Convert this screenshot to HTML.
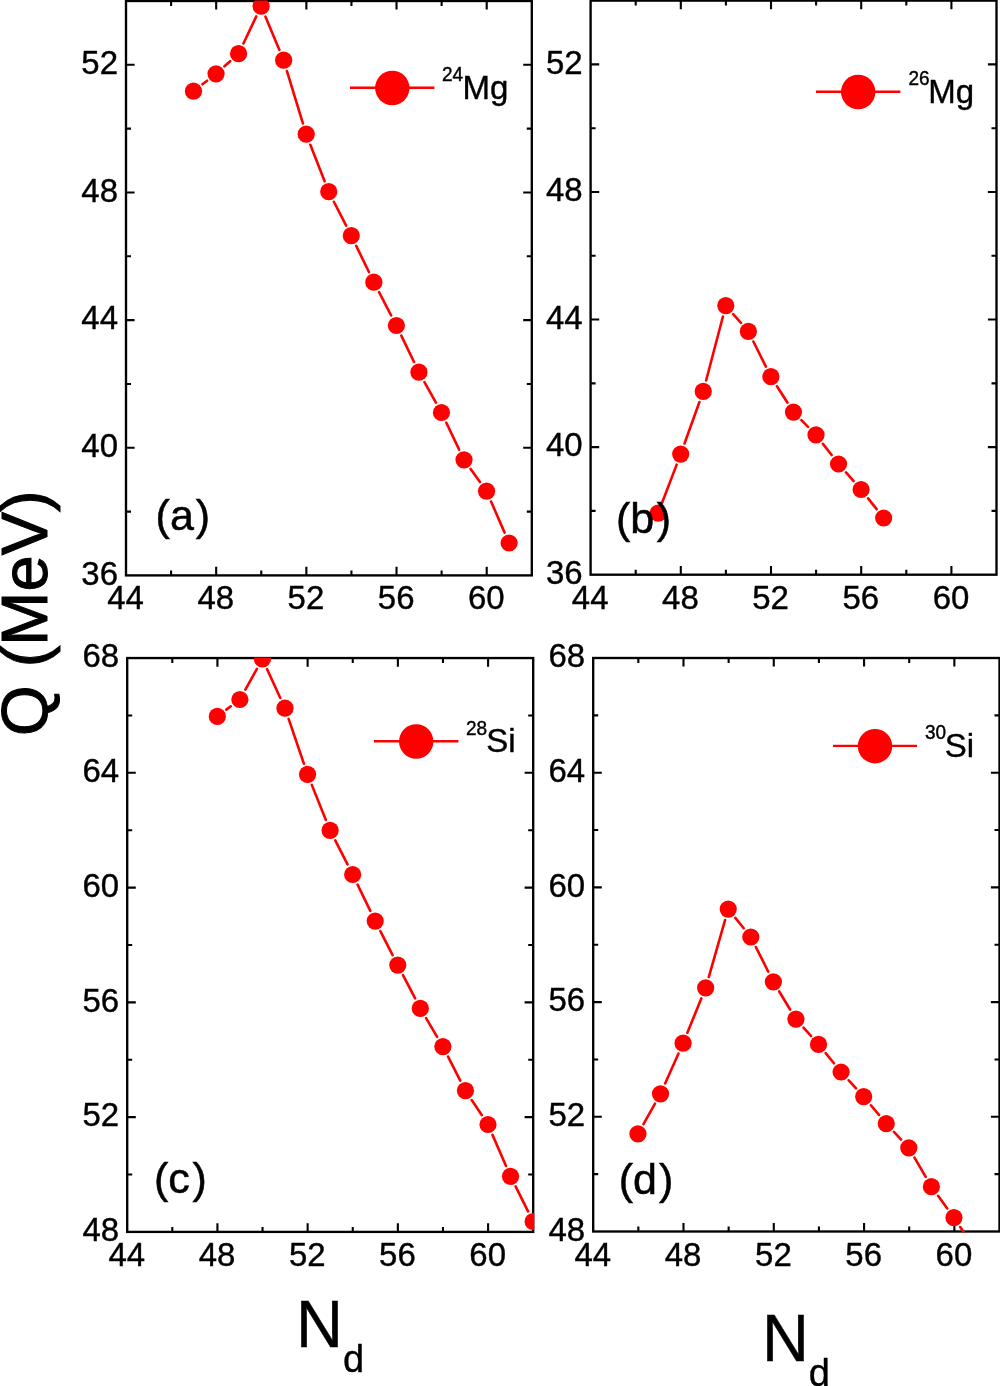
<!DOCTYPE html>
<html lang="en"><head><meta charset="utf-8"><title>Q (MeV) vs N_d</title>
<style>html,body{margin:0;padding:0;background:#fff}svg{display:block}text{stroke:#000}</style>
</head><body>
<svg width="1000" height="1386" viewBox="0 0 1000 1386" font-family='"Liberation Sans", sans-serif'>
<rect width="1000" height="1386" fill="#fff"/>
<defs>
<clipPath id="cpa"><rect x="125.00" y="0.45" width="407.85" height="576.00"/></clipPath>
<clipPath id="cpb"><rect x="589.60" y="0.05" width="407.95" height="575.70"/></clipPath>
<clipPath id="cpc"><rect x="126.20" y="657.50" width="408.05" height="575.45"/></clipPath>
<clipPath id="cpd"><rect x="592.20" y="657.45" width="408.35" height="575.10"/></clipPath>
</defs>
<line x1="350.0" y1="87.8" x2="434.4" y2="87.8" stroke="#ff0000" stroke-width="2.4"/>
<circle cx="392.3" cy="88.0" r="17.2" fill="#ff0000"/>
<text transform="translate(442.00 81.40) scale(1 1.05)" font-size="19" stroke-width="0.4">24</text>
<text transform="translate(462.50 99.00)" font-size="33" stroke-width="0.4">Mg</text>
<path d="M171.09 575.4v-5.0M171.09 1.0v5.0M216.18 575.4v-8.6M216.18 1.0v8.6M261.27 575.4v-5.0M261.27 1.0v5.0M306.36 575.4v-8.6M306.36 1.0v8.6M351.44 575.4v-5.0M351.44 1.0v5.0M396.53 575.4v-8.6M396.53 1.0v8.6M441.62 575.4v-5.0M441.62 1.0v5.0M486.71 575.4v-8.6M486.71 1.0v8.6M126.0 511.58h5.0M531.8 511.58h-5.0M126.0 447.76h8.6M531.8 447.76h-8.6M126.0 383.93h5.0M531.8 383.93h-5.0M126.0 320.11h8.6M531.8 320.11h-8.6M126.0 256.29h5.0M531.8 256.29h-5.0M126.0 192.47h8.6M531.8 192.47h-8.6M126.0 128.64h5.0M531.8 128.64h-5.0M126.0 64.82h8.6M531.8 64.82h-8.6" stroke="#000" stroke-width="2.1" fill="none"/>
<rect x="126.0" y="1.0" width="405.80" height="574.40" fill="none" stroke="#000" stroke-width="2.35"/>
<g clip-path="url(#cpa)">
<path d="M202.43 84.30L207.08 80.70M224.46 66.28L230.14 61.22M243.42 43.49L256.27 16.41M265.47 16.63L279.31 49.77M286.95 71.01L302.91 123.39M310.33 144.72L324.63 181.18M333.90 201.76L346.14 225.64M356.22 245.87L368.91 272.03M379.06 292.22L391.16 315.48M401.30 335.68L414.02 362.02M424.44 382.06L435.96 402.64M446.33 422.70L459.15 449.60M470.61 468.98L479.97 482.02M491.07 501.56L504.60 532.64" stroke="#ff0000" stroke-width="2.6" stroke-linecap="round" fill="none"/>
<circle cx="193.48" cy="91.20" r="8.6" fill="#ff0000"/>
<circle cx="216.03" cy="73.80" r="8.6" fill="#ff0000"/>
<circle cx="238.57" cy="53.70" r="8.6" fill="#ff0000"/>
<circle cx="261.12" cy="6.20" r="8.6" fill="#ff0000"/>
<circle cx="283.66" cy="60.20" r="8.6" fill="#ff0000"/>
<circle cx="306.21" cy="134.20" r="8.6" fill="#ff0000"/>
<circle cx="328.75" cy="191.70" r="8.6" fill="#ff0000"/>
<circle cx="351.29" cy="235.70" r="8.6" fill="#ff0000"/>
<circle cx="373.84" cy="282.20" r="8.6" fill="#ff0000"/>
<circle cx="396.38" cy="325.50" r="8.6" fill="#ff0000"/>
<circle cx="418.93" cy="372.20" r="8.6" fill="#ff0000"/>
<circle cx="441.47" cy="412.50" r="8.6" fill="#ff0000"/>
<circle cx="464.02" cy="459.80" r="8.6" fill="#ff0000"/>
<circle cx="486.56" cy="491.20" r="8.6" fill="#ff0000"/>
<circle cx="509.11" cy="543.00" r="8.6" fill="#ff0000"/>
</g>
<text transform="translate(155.60 530.00)" font-size="43" stroke-width="0.5">(a<tspan dx="2.0">)</tspan></text>
<text transform="translate(125.60 609.40) scale(1 1.015)" font-size="33" text-anchor="middle" stroke-width="0.4">44</text>
<text transform="translate(215.78 609.40) scale(1 1.015)" font-size="33" text-anchor="middle" stroke-width="0.4">48</text>
<text transform="translate(305.96 609.40) scale(1 1.015)" font-size="33" text-anchor="middle" stroke-width="0.4">52</text>
<text transform="translate(396.13 609.40) scale(1 1.015)" font-size="33" text-anchor="middle" stroke-width="0.4">56</text>
<text transform="translate(486.31 609.40) scale(1 1.015)" font-size="33" text-anchor="middle" stroke-width="0.4">60</text>
<text transform="translate(118.00 584.60) scale(1 1.015)" font-size="33" text-anchor="end" stroke-width="0.4">36</text>
<text transform="translate(118.00 456.96) scale(1 1.015)" font-size="33" text-anchor="end" stroke-width="0.4">40</text>
<text transform="translate(118.00 329.31) scale(1 1.015)" font-size="33" text-anchor="end" stroke-width="0.4">44</text>
<text transform="translate(118.00 201.67) scale(1 1.015)" font-size="33" text-anchor="end" stroke-width="0.4">48</text>
<text transform="translate(118.00 74.02) scale(1 1.015)" font-size="33" text-anchor="end" stroke-width="0.4">52</text>
<line x1="816.0" y1="91.8" x2="900.4" y2="91.8" stroke="#ff0000" stroke-width="2.4"/>
<circle cx="858.2" cy="92.0" r="17.2" fill="#ff0000"/>
<text transform="translate(908.40 85.40) scale(1 1.05)" font-size="19" stroke-width="0.4">26</text>
<text transform="translate(928.30 102.80)" font-size="33" stroke-width="0.4">Mg</text>
<path d="M635.70 574.7v-5.0M635.70 0.6v5.0M680.80 574.7v-8.6M680.80 0.6v8.6M725.90 574.7v-5.0M725.90 0.6v5.0M771.00 574.7v-8.6M771.00 0.6v8.6M816.10 574.7v-5.0M816.10 0.6v5.0M861.20 574.7v-8.6M861.20 0.6v8.6M906.30 574.7v-5.0M906.30 0.6v5.0M951.40 574.7v-8.6M951.40 0.6v8.6M590.6 510.91h5.0M996.5 510.91h-5.0M590.6 447.12h8.6M996.5 447.12h-8.6M590.6 383.33h5.0M996.5 383.33h-5.0M590.6 319.54h8.6M996.5 319.54h-8.6M590.6 255.76h5.0M996.5 255.76h-5.0M590.6 191.97h8.6M996.5 191.97h-8.6M590.6 128.18h5.0M996.5 128.18h-5.0M590.6 64.39h8.6M996.5 64.39h-8.6" stroke="#000" stroke-width="2.1" fill="none"/>
<rect x="590.6" y="0.6" width="405.90" height="574.10" fill="none" stroke="#000" stroke-width="2.35"/>
<g clip-path="url(#cpb)">
<path d="M662.18 502.54L676.67 464.66M684.52 443.47L699.43 402.03M706.12 380.47L722.93 316.53M733.24 314.11L740.91 322.89M753.39 341.52L765.86 366.58M776.97 386.23L787.38 402.57M801.40 420.13L808.05 426.87M822.92 443.83L831.63 455.07M846.04 472.46L853.61 481.04M868.11 498.36L876.64 509.14" stroke="#ff0000" stroke-width="2.6" stroke-linecap="round" fill="none"/>
<circle cx="658.15" cy="513.10" r="8.6" fill="#ff0000"/>
<circle cx="680.70" cy="454.10" r="8.6" fill="#ff0000"/>
<circle cx="703.25" cy="391.40" r="8.6" fill="#ff0000"/>
<circle cx="725.80" cy="305.60" r="8.6" fill="#ff0000"/>
<circle cx="748.35" cy="331.40" r="8.6" fill="#ff0000"/>
<circle cx="770.90" cy="376.70" r="8.6" fill="#ff0000"/>
<circle cx="793.45" cy="412.10" r="8.6" fill="#ff0000"/>
<circle cx="816.00" cy="434.90" r="8.6" fill="#ff0000"/>
<circle cx="838.55" cy="464.00" r="8.6" fill="#ff0000"/>
<circle cx="861.10" cy="489.50" r="8.6" fill="#ff0000"/>
<circle cx="883.65" cy="518.00" r="8.6" fill="#ff0000"/>
</g>
<text transform="translate(616.00 532.80)" font-size="43" stroke-width="0.5">(b<tspan dx="2.6">)</tspan></text>
<text transform="translate(590.20 609.30) scale(1 1.015)" font-size="33" text-anchor="middle" stroke-width="0.4">44</text>
<text transform="translate(680.40 609.30) scale(1 1.015)" font-size="33" text-anchor="middle" stroke-width="0.4">48</text>
<text transform="translate(770.60 609.30) scale(1 1.015)" font-size="33" text-anchor="middle" stroke-width="0.4">52</text>
<text transform="translate(860.80 609.30) scale(1 1.015)" font-size="33" text-anchor="middle" stroke-width="0.4">56</text>
<text transform="translate(951.00 609.30) scale(1 1.015)" font-size="33" text-anchor="middle" stroke-width="0.4">60</text>
<text transform="translate(582.60 583.90) scale(1 1.015)" font-size="33" text-anchor="end" stroke-width="0.4">36</text>
<text transform="translate(582.60 456.32) scale(1 1.015)" font-size="33" text-anchor="end" stroke-width="0.4">40</text>
<text transform="translate(582.60 328.74) scale(1 1.015)" font-size="33" text-anchor="end" stroke-width="0.4">44</text>
<text transform="translate(582.60 201.17) scale(1 1.015)" font-size="33" text-anchor="end" stroke-width="0.4">48</text>
<text transform="translate(582.60 73.59) scale(1 1.015)" font-size="33" text-anchor="end" stroke-width="0.4">52</text>
<line x1="374.0" y1="741.3" x2="458.4" y2="741.3" stroke="#ff0000" stroke-width="2.4"/>
<circle cx="416.2" cy="741.5" r="17.2" fill="#ff0000"/>
<text transform="translate(466.00 734.80) scale(1 1.05)" font-size="19" stroke-width="0.4">28</text>
<text transform="translate(486.30 752.40)" font-size="33" stroke-width="0.4">Si</text>
<path d="M172.31 1231.9v-5.0M172.31 658.05v5.0M217.42 1231.9v-8.6M217.42 658.05v8.6M262.53 1231.9v-5.0M262.53 658.05v5.0M307.64 1231.9v-8.6M307.64 658.05v8.6M352.76 1231.9v-5.0M352.76 658.05v5.0M397.87 1231.9v-8.6M397.87 658.05v8.6M442.98 1231.9v-5.0M442.98 658.05v5.0M488.09 1231.9v-8.6M488.09 658.05v8.6M127.2 1174.52h5.0M533.2 1174.52h-5.0M127.2 1117.13h8.6M533.2 1117.13h-8.6M127.2 1059.75h5.0M533.2 1059.75h-5.0M127.2 1002.36h8.6M533.2 1002.36h-8.6M127.2 944.98h5.0M533.2 944.98h-5.0M127.2 887.59h8.6M533.2 887.59h-8.6M127.2 830.20h5.0M533.2 830.20h-5.0M127.2 772.82h8.6M533.2 772.82h-8.6M127.2 715.43h5.0M533.2 715.43h-5.0" stroke="#000" stroke-width="2.1" fill="none"/>
<rect x="127.2" y="658.05" width="406.00" height="573.85" fill="none" stroke="#000" stroke-width="2.35"/>
<g clip-path="url(#cpc)">
<path d="M226.37 709.62L230.83 706.28M245.37 689.62L256.95 668.78M267.13 669.18L280.29 697.92M288.63 718.90L303.90 763.70M311.77 784.88L325.88 819.92M335.25 840.46L347.51 864.44M357.58 884.67L370.29 910.93M380.37 931.16L392.61 955.04M402.99 975.12L415.10 998.38M426.07 1018.13L437.13 1036.87M448.03 1056.66L460.28 1080.54M471.69 1100.01L481.73 1115.09M492.50 1134.86L506.03 1165.94M515.59 1186.41L528.05 1211.39" stroke="#ff0000" stroke-width="2.6" stroke-linecap="round" fill="none"/>
<circle cx="217.32" cy="716.40" r="8.6" fill="#ff0000"/>
<circle cx="239.88" cy="699.50" r="8.6" fill="#ff0000"/>
<circle cx="262.43" cy="658.90" r="8.6" fill="#ff0000"/>
<circle cx="284.99" cy="708.20" r="8.6" fill="#ff0000"/>
<circle cx="307.54" cy="774.40" r="8.6" fill="#ff0000"/>
<circle cx="330.10" cy="830.40" r="8.6" fill="#ff0000"/>
<circle cx="352.66" cy="874.50" r="8.6" fill="#ff0000"/>
<circle cx="375.21" cy="921.10" r="8.6" fill="#ff0000"/>
<circle cx="397.77" cy="965.10" r="8.6" fill="#ff0000"/>
<circle cx="420.32" cy="1008.40" r="8.6" fill="#ff0000"/>
<circle cx="442.88" cy="1046.60" r="8.6" fill="#ff0000"/>
<circle cx="465.43" cy="1090.60" r="8.6" fill="#ff0000"/>
<circle cx="487.99" cy="1124.50" r="8.6" fill="#ff0000"/>
<circle cx="510.54" cy="1176.30" r="8.6" fill="#ff0000"/>
<circle cx="533.10" cy="1221.50" r="8.6" fill="#ff0000"/>
</g>
<text transform="translate(154.00 1193.20)" font-size="43" stroke-width="0.5">(c<tspan dx="2.7">)</tspan></text>
<text transform="translate(126.80 1266.10) scale(1 1.015)" font-size="33" text-anchor="middle" stroke-width="0.4">44</text>
<text transform="translate(217.02 1266.10) scale(1 1.015)" font-size="33" text-anchor="middle" stroke-width="0.4">48</text>
<text transform="translate(307.24 1266.10) scale(1 1.015)" font-size="33" text-anchor="middle" stroke-width="0.4">52</text>
<text transform="translate(397.47 1266.10) scale(1 1.015)" font-size="33" text-anchor="middle" stroke-width="0.4">56</text>
<text transform="translate(487.69 1266.10) scale(1 1.015)" font-size="33" text-anchor="middle" stroke-width="0.4">60</text>
<text transform="translate(119.20 1241.10) scale(1 1.015)" font-size="33" text-anchor="end" stroke-width="0.4">48</text>
<text transform="translate(119.20 1126.33) scale(1 1.015)" font-size="33" text-anchor="end" stroke-width="0.4">52</text>
<text transform="translate(119.20 1011.56) scale(1 1.015)" font-size="33" text-anchor="end" stroke-width="0.4">56</text>
<text transform="translate(119.20 896.79) scale(1 1.015)" font-size="33" text-anchor="end" stroke-width="0.4">60</text>
<text transform="translate(119.20 782.02) scale(1 1.015)" font-size="33" text-anchor="end" stroke-width="0.4">64</text>
<text transform="translate(119.20 667.25) scale(1 1.015)" font-size="33" text-anchor="end" stroke-width="0.4">68</text>
<line x1="833.0" y1="745.9" x2="917.0" y2="745.9" stroke="#ff0000" stroke-width="2.4"/>
<circle cx="875.0" cy="746.2" r="17.2" fill="#ff0000"/>
<text transform="translate(925.00 739.40) scale(1 1.05)" font-size="19" stroke-width="0.4">30</text>
<text transform="translate(944.70 757.00)" font-size="33" stroke-width="0.4">Si</text>
<path d="M638.34 1231.5v-5.0M638.34 658.0v5.0M683.49 1231.5v-8.6M683.49 658.0v8.6M728.63 1231.5v-5.0M728.63 658.0v5.0M773.78 1231.5v-8.6M773.78 658.0v8.6M818.92 1231.5v-5.0M818.92 658.0v5.0M864.07 1231.5v-8.6M864.07 658.0v8.6M909.21 1231.5v-5.0M909.21 658.0v5.0M954.36 1231.5v-8.6M954.36 658.0v8.6M593.2 1174.15h5.0M999.5 1174.15h-5.0M593.2 1116.80h8.6M999.5 1116.80h-8.6M593.2 1059.45h5.0M999.5 1059.45h-5.0M593.2 1002.10h8.6M999.5 1002.10h-8.6M593.2 944.75h5.0M999.5 944.75h-5.0M593.2 887.40h8.6M999.5 887.40h-8.6M593.2 830.05h5.0M999.5 830.05h-5.0M593.2 772.70h8.6M999.5 772.70h-8.6M593.2 715.35h5.0M999.5 715.35h-5.0" stroke="#000" stroke-width="2.1" fill="none"/>
<rect x="593.2" y="658.0" width="406.30" height="573.50" fill="none" stroke="#000" stroke-width="2.35"/>
<g clip-path="url(#cpd)">
<path d="M643.49 1124.05L654.97 1103.65M665.12 1083.48L678.49 1053.52M687.36 1032.74L701.39 998.36M708.77 977.04L725.12 919.96M735.34 917.88L743.70 928.22M755.89 947.09L768.29 971.71M779.22 991.47L790.11 1009.53M803.49 1027.62L810.98 1035.98M825.68 1053.15L833.94 1063.25M848.73 1080.33L856.03 1088.27M870.91 1105.27L878.99 1114.93M893.95 1131.86L901.10 1139.54M914.48 1157.57L925.71 1176.93M938.05 1195.82L947.29 1208.48M960.21 1227.01L970.28 1242.19" stroke="#ff0000" stroke-width="2.6" stroke-linecap="round" fill="none"/>
<circle cx="637.94" cy="1133.90" r="8.6" fill="#ff0000"/>
<circle cx="660.52" cy="1093.80" r="8.6" fill="#ff0000"/>
<circle cx="683.09" cy="1043.20" r="8.6" fill="#ff0000"/>
<circle cx="705.66" cy="987.90" r="8.6" fill="#ff0000"/>
<circle cx="728.23" cy="909.10" r="8.6" fill="#ff0000"/>
<circle cx="750.81" cy="937.00" r="8.6" fill="#ff0000"/>
<circle cx="773.38" cy="981.80" r="8.6" fill="#ff0000"/>
<circle cx="795.95" cy="1019.20" r="8.6" fill="#ff0000"/>
<circle cx="818.52" cy="1044.40" r="8.6" fill="#ff0000"/>
<circle cx="841.09" cy="1072.00" r="8.6" fill="#ff0000"/>
<circle cx="863.67" cy="1096.60" r="8.6" fill="#ff0000"/>
<circle cx="886.24" cy="1123.60" r="8.6" fill="#ff0000"/>
<circle cx="908.81" cy="1147.80" r="8.6" fill="#ff0000"/>
<circle cx="931.38" cy="1186.70" r="8.6" fill="#ff0000"/>
<circle cx="953.96" cy="1217.60" r="8.6" fill="#ff0000"/>
<circle cx="976.53" cy="1251.60" r="8.6" fill="#ff0000"/>
</g>
<text transform="translate(618.80 1193.70)" font-size="43" stroke-width="0.5">(d<tspan dx="1.9">)</tspan></text>
<text transform="translate(592.80 1265.70) scale(1 1.015)" font-size="33" text-anchor="middle" stroke-width="0.4">44</text>
<text transform="translate(683.09 1265.70) scale(1 1.015)" font-size="33" text-anchor="middle" stroke-width="0.4">48</text>
<text transform="translate(773.38 1265.70) scale(1 1.015)" font-size="33" text-anchor="middle" stroke-width="0.4">52</text>
<text transform="translate(863.67 1265.70) scale(1 1.015)" font-size="33" text-anchor="middle" stroke-width="0.4">56</text>
<text transform="translate(953.96 1265.70) scale(1 1.015)" font-size="33" text-anchor="middle" stroke-width="0.4">60</text>
<text transform="translate(585.20 1240.70) scale(1 1.015)" font-size="33" text-anchor="end" stroke-width="0.4">48</text>
<text transform="translate(585.20 1126.00) scale(1 1.015)" font-size="33" text-anchor="end" stroke-width="0.4">52</text>
<text transform="translate(585.20 1011.30) scale(1 1.015)" font-size="33" text-anchor="end" stroke-width="0.4">56</text>
<text transform="translate(585.20 896.60) scale(1 1.015)" font-size="33" text-anchor="end" stroke-width="0.4">60</text>
<text transform="translate(585.20 781.90) scale(1 1.015)" font-size="33" text-anchor="end" stroke-width="0.4">64</text>
<text transform="translate(585.20 667.20) scale(1 1.015)" font-size="33" text-anchor="end" stroke-width="0.4">68</text>
<text transform="translate(46.70 735.90) rotate(-90)" font-size="65" stroke-width="1.0">Q (MeV)</text>
<text transform="translate(296.00 1347.00) scale(1 1.03)" font-size="65" stroke-width="0.4">N</text>
<text transform="translate(342.90 1372.30)" font-size="38" stroke-width="0.4">d</text>
<text transform="translate(762.00 1360.60) scale(1 1.03)" font-size="65" stroke-width="0.4">N</text>
<text transform="translate(808.70 1385.90)" font-size="38" stroke-width="0.4">d</text>
</svg>
</body></html>
